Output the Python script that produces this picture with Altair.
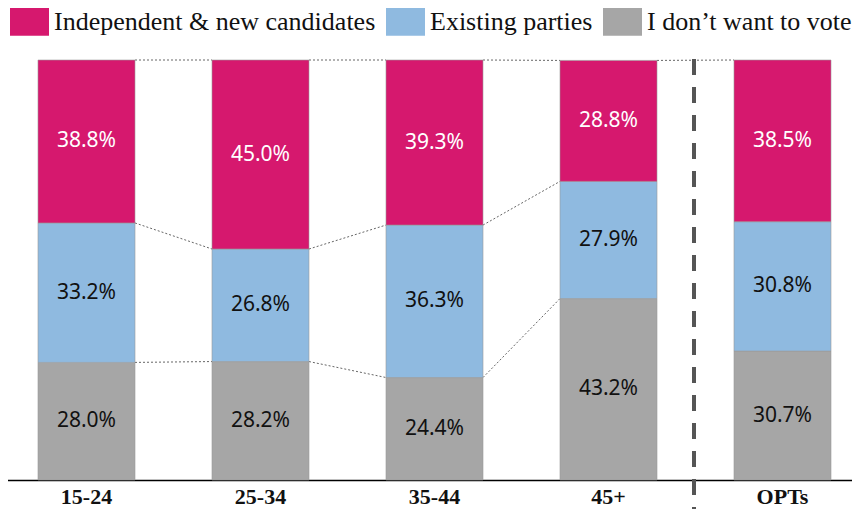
import altair as alt
import pandas as pd

groups = ["15-24", "25-34", "35-44", "45+", "OPTs"]
independent = [38.8, 45.0, 39.3, 28.8, 38.5]
existing = [33.2, 26.8, 36.3, 27.9, 30.8]
no_vote = [28.0, 28.2, 24.4, 43.2, 30.7]

series = ["Independent & new candidates", "Existing parties", "I don\u2019t want to vote"]
colors = ["#D6186E", "#8FBAE0", "#A6A6A6"]
text_colors = ["#FFFFFF", "#111111", "#111111"]

# stacked segments (bottom to top: no vote, existing, independent)
rows = []
for i, g in enumerate(groups):
    base = 0.0
    for s, vals, tc in [(series[2], no_vote, text_colors[2]),
                        (series[1], existing, text_colors[1]),
                        (series[0], independent, text_colors[0])]:
        v = vals[i]
        rows.append(dict(group=g, series=s, start=base, end=base + v,
                         mid=base + v / 2, label=f"{v:.1f}%", tcolor=tc))
        base += v
df = pd.DataFrame(rows)

# connector lines between neighbouring bars
conn = []
for i in range(len(groups) - 1):
    lv = [no_vote[i], no_vote[i] + existing[i], no_vote[i] + existing[i] + independent[i]]
    j = i + 1
    rv = [no_vote[j], no_vote[j] + existing[j], no_vote[j] + existing[j] + independent[j]]
    levels = [0, 1, 2] if groups[j] != "OPTs" else [2]
    for k in levels:
        conn.append(dict(g1=groups[i], g2=groups[j], y1=lv[k], y2=rv[k]))
conn_df = pd.DataFrame(conn)

sep_df = pd.DataFrame({"group": ["45+"]})

H = 420
W = 844
PAD_TOP = 52
PAD_BOTTOM = 29

xscale = alt.Scale(type="band", domain=groups, range=[-8.5, 861.5],
                   paddingInner=0.4425, paddingOuter=0.22125)
xaxis = alt.Axis(title=None, ticks=False, grid=False, domainColor="#000000",
                 domainWidth=1.5, labelFont="Liberation Serif", labelFontWeight="bold",
                 labelFontSize=22, labelColor="#111111", labelPadding=6, labelAngle=0)
yscale = alt.Scale(domain=[0, 100], nice=False, zero=True)

bars = alt.Chart(df).mark_bar(stroke="#9a9a9a", strokeWidth=0.6).encode(
    x=alt.X("group:N", scale=xscale, axis=xaxis, sort=groups),
    y=alt.Y("start:Q", scale=yscale, axis=None),
    y2="end:Q",
    color=alt.Color(
        "series:N",
        scale=alt.Scale(domain=series, range=colors),
        legend=alt.Legend(
            orient="none", legendX=2, legendY=-58, direction="horizontal",
            title=None,
            symbolType="M-1,-0.718L1,-0.718L1,0.718L-1,0.718Z",
            symbolSize=1521, symbolStrokeWidth=0, symbolOpacity=1,
            labelFont="Liberation Serif", labelFontSize=26, labelColor="#111111",
            labelLimit=600, labelOffset=5, columnPadding=10,
        ),
    ),
)

texts = alt.Chart(df).mark_text(font="Noto Sans", fontSize=21, baseline="middle").encode(
    x=alt.X("group:N", scale=xscale, axis=xaxis, sort=groups),
    y=alt.Y("mid:Q", scale=yscale, axis=None),
    text="label:N",
    color=alt.Color("tcolor:N", scale=None, legend=None),
)

connectors = alt.Chart(conn_df).mark_rule(color="#666666", strokeWidth=1, strokeDash=[2, 2]).encode(
    x=alt.X("g1:N", scale=xscale, axis=xaxis, sort=groups, bandPosition=1),
    x2=alt.X2("g2:N", bandPosition=0),
    y=alt.Y("y1:Q", scale=yscale, axis=None),
    y2="y2:Q",
)

separator = alt.Chart(sep_df).mark_rule(color="#555555", strokeWidth=4, strokeDash=[16, 12],
                                        xOffset=37).encode(
    x=alt.X("group:N", scale=xscale, axis=xaxis, sort=groups, bandPosition=1),
    y=alt.value(-1),
    y2=alt.value(H + PAD_BOTTOM),
)

chart = alt.layer(connectors, bars, texts, separator).properties(
    width=W, height=H,
    autosize=alt.AutoSizeParams(type="none"),
    padding={"left": 0, "top": PAD_TOP, "right": 0, "bottom": PAD_BOTTOM},
).configure_view(stroke=None).configure_axis(grid=False)

chart.save("out.html", embed_options={"renderer": "svg", "actions": False})
